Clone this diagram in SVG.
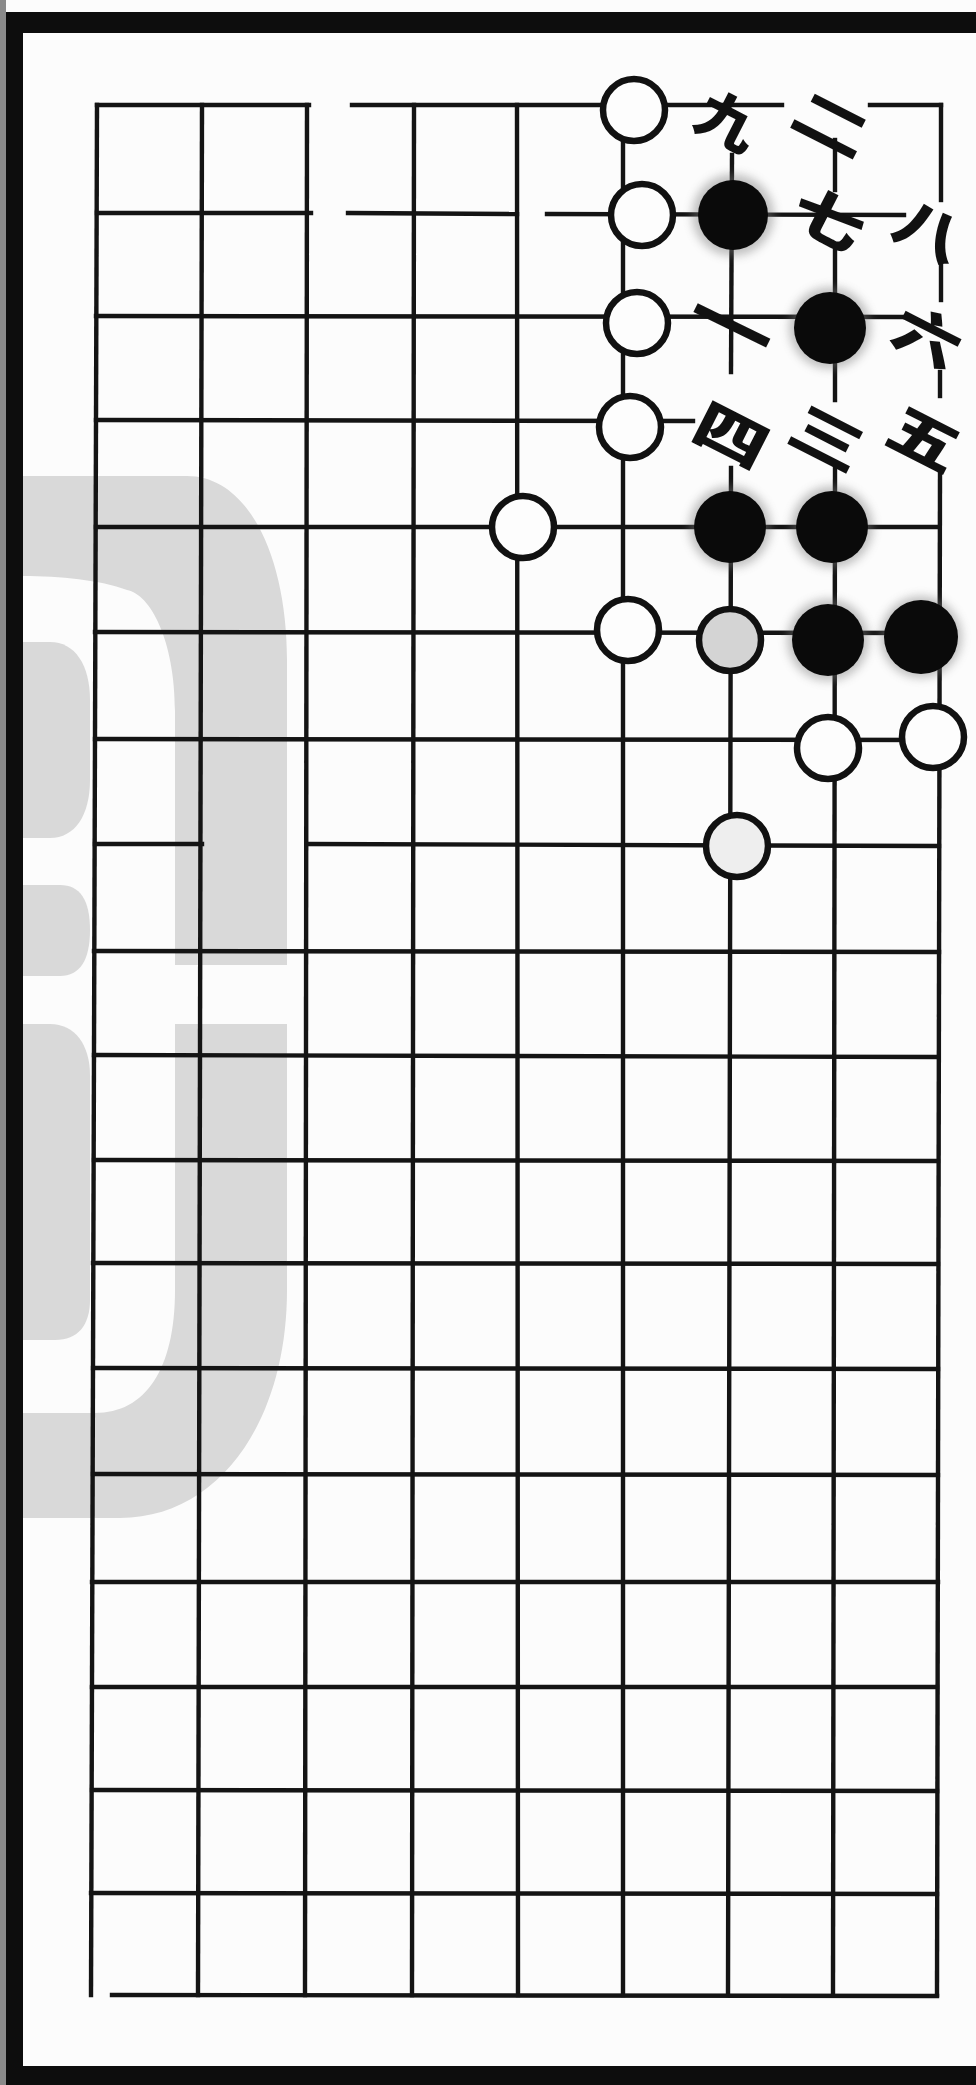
<svg xmlns="http://www.w3.org/2000/svg" width="976" height="2085" viewBox="0 0 976 2085">
<defs>
<style>
.ln{stroke:#141414;stroke-width:4.4;stroke-linecap:square;fill:none}
.wm{fill:#d9d9d9}
.w{fill:#fdfdfd;stroke:#111;stroke-width:6.5}
.b{fill:#0a0a0a}
.hz{fill:#777;opacity:.45}
.num{font-family:"Noto Sans CJK SC","Noto Sans CJK JP",sans-serif;font-weight:900;font-size:56px;fill:#111;text-anchor:middle;dominant-baseline:central}
</style>
<filter id="blur" x="-50%" y="-50%" width="200%" height="200%"><feGaussianBlur stdDeviation="5"/></filter>
</defs>
<rect x="0" y="0" width="976" height="2085" fill="#fcfcfc"/>
<g id="frame">
<rect x="0" y="0" width="6" height="2085" fill="#8a8a8a"/>
<rect x="6" y="12" width="970" height="21" fill="#0d0d0d"/>
<rect x="6" y="12" width="17" height="2073" fill="#0d0d0d"/>
<rect x="6" y="2066" width="970" height="19" fill="#0d0d0d"/>
</g>
<g id="watermark">
<path class="wm" d="M23 476 H187 C250 476 287 560 287 660 V965 H175 V711 C175 640 150 594 127 590 C100 580 60 576 23 576 Z"/>
<path class="wm" d="M23 642 H50 C75 642 90 665 90 700 V780 C90 815 75 838 50 838 H23 Z"/>
<path class="wm" d="M23 885 H60 C80 885 90 900 90 930 C90 960 80 976 60 976 H23 Z"/>
<path class="wm" d="M23 1024 H50 C75 1024 90 1045 90 1075 V1300 C90 1325 78 1340 55 1340 H23 Z"/>
<path class="wm" d="M175 1024 H287 V1290 C287 1420 220 1518 120 1518 H23 V1413 H95 C145 1413 175 1370 175 1290 Z"/>
</g>
<g id="board-lines" class="ln">
<line x1="97" y1="105" x2="91" y2="1995"/>
<line x1="202" y1="105" x2="198" y2="1995"/>
<line x1="307" y1="105" x2="305" y2="1995"/>
<line x1="414" y1="105" x2="412" y2="1995"/>
<line x1="517" y1="105" x2="518" y2="1995"/>
<line x1="623" y1="105" x2="623" y2="1995"/>
<line x1="732" y1="155" x2="731" y2="372"/>
<line x1="731" y1="468" x2="728" y2="1995"/>
<line x1="835" y1="140" x2="835" y2="190"/>
<line x1="835" y1="245" x2="835" y2="400"/>
<line x1="835" y1="468" x2="833" y2="1995"/>
<line x1="941" y1="105" x2="941" y2="200"/>
<line x1="941" y1="252" x2="941" y2="300"/>
<line x1="940" y1="372" x2="940" y2="396"/>
<line x1="940" y1="472" x2="937" y2="1995"/>
<line x1="97" y1="105" x2="309" y2="105"/>
<line x1="352" y1="105" x2="782" y2="105"/>
<line x1="870" y1="105" x2="941" y2="105"/>
<line x1="97" y1="213" x2="311" y2="213"/>
<line x1="348" y1="213" x2="517" y2="214"/>
<line x1="547" y1="214" x2="904" y2="215"/>
<line x1="96" y1="316" x2="906" y2="317"/>
<line x1="96" y1="420" x2="693" y2="421"/>
<line x1="96" y1="527" x2="939" y2="527"/>
<line x1="95" y1="632" x2="939" y2="633"/>
<line x1="95" y1="739" x2="939" y2="740"/>
<line x1="95" y1="844" x2="202" y2="844"/>
<line x1="307" y1="844" x2="939" y2="846"/>
<line x1="94" y1="951" x2="939" y2="952"/>
<line x1="94" y1="1055" x2="938" y2="1057"/>
<line x1="94" y1="1160" x2="938" y2="1161"/>
<line x1="93" y1="1263" x2="938" y2="1264"/>
<line x1="93" y1="1368" x2="938" y2="1369"/>
<line x1="93" y1="1474" x2="938" y2="1475"/>
<line x1="92" y1="1582" x2="938" y2="1582"/>
<line x1="92" y1="1687" x2="937" y2="1687"/>
<line x1="92" y1="1790" x2="937" y2="1791"/>
<line x1="91" y1="1893" x2="937" y2="1894"/>
<line x1="112" y1="1995" x2="937" y2="1996"/>
</g>
<g id="haze">
<circle class="hz" cx="733" cy="215" r="41" filter="url(#blur)"/>
<circle class="hz" cx="830" cy="328" r="41" filter="url(#blur)"/>
<circle class="hz" cx="730" cy="527" r="41" filter="url(#blur)"/>
<circle class="hz" cx="832" cy="527" r="41" filter="url(#blur)"/>
<circle class="hz" cx="828" cy="640" r="41" filter="url(#blur)"/>
<circle class="hz" cx="921" cy="637" r="41" filter="url(#blur)"/>
</g>
<g id="stone-w1"><circle class="w" cx="634" cy="110" r="31"/></g>
<g id="stone-w2"><circle class="w" cx="642" cy="215" r="31"/></g>
<g id="stone-w3"><circle class="w" cx="637" cy="323" r="31"/></g>
<g id="stone-w4"><circle class="w" cx="630" cy="427" r="31"/></g>
<g id="stone-w5"><circle class="w" cx="523" cy="527" r="31"/></g>
<g id="stone-w6"><circle class="w" cx="628" cy="630" r="31"/></g>
<g id="stone-w7"><circle class="w" cx="730" cy="640" r="31" style="fill:#d4d4d4"/></g>
<g id="stone-w8"><circle class="w" cx="828" cy="748" r="31"/></g>
<g id="stone-w9"><circle class="w" cx="933" cy="737" r="31"/></g>
<g id="stone-w10"><circle class="w" cx="737" cy="846" r="31" style="fill:#eeeeee"/></g>
<g id="stone-b1"><circle class="b" cx="733" cy="215" r="35"/></g>
<g id="stone-b2"><circle class="b" cx="830" cy="328" r="36"/></g>
<g id="stone-b3"><circle class="b" cx="730" cy="527" r="36"/></g>
<g id="stone-b4"><circle class="b" cx="832" cy="527" r="36"/></g>
<g id="stone-b5"><circle class="b" cx="828" cy="640" r="36"/></g>
<g id="stone-b6"><circle class="b" cx="921" cy="637" r="37"/></g>
<g id="label-1"><text class="num" transform="translate(733,323) rotate(26) scale(1.4,1)" style="font-size:62px">一</text></g>
<g id="label-2"><text class="num" transform="translate(833,121) rotate(27) scale(1.4,1)">二</text></g>
<g id="label-3"><text class="num" transform="translate(829,435) rotate(27) scale(1.35,1)">三</text></g>
<g id="label-4"><text class="num" transform="translate(733,432) rotate(27) scale(1.35,1)">四</text></g>
<g id="label-5"><text class="num" transform="translate(926,436) rotate(27) scale(1.3,1)">五</text></g>
<g id="label-6"><text class="num" transform="translate(929,334) rotate(27) scale(1.22,1)">六</text></g>
<g id="label-7"><text class="num" transform="translate(830,216) rotate(27) scale(1.3,1)">七</text></g>
<g id="label-8"><text class="num" transform="translate(930,228) rotate(27) scale(1.22,1)">八</text></g>
<g id="label-9"><text class="num" transform="translate(729,118) rotate(27) scale(1.1,1)">九</text></g>
</svg>
